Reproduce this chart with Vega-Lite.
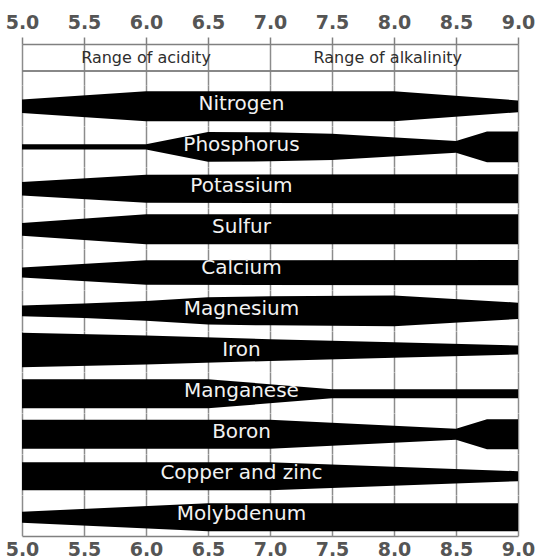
{
  "$schema": "https://vega.github.io/schema/vega-lite/v6.json",
  "autosize": {"type": "pad"},
  "padding": {"left": 5, "top": 13, "right": 5, "bottom": 0},
  "background": "white",
  "config": {
    "view": {"stroke": null},
    "font": "DejaVu Sans"
  },
  "datasets": {
    "header": [
      {"pH": 6.0, "label": "Range of acidity"},
      {"pH": 7.95, "label": "Range of alkalinity"}
    ],
    "bands": [
      {"nutrient": "Nitrogen", "pH": 5.0, "availability": 15},
      {"nutrient": "Nitrogen", "pH": 6.0, "availability": 33},
      {"nutrient": "Nitrogen", "pH": 8.0, "availability": 33},
      {"nutrient": "Nitrogen", "pH": 9.0, "availability": 13},
      {"nutrient": "Phosphorus", "pH": 5.0, "availability": 6},
      {"nutrient": "Phosphorus", "pH": 6.0, "availability": 6},
      {"nutrient": "Phosphorus", "pH": 6.5, "availability": 33},
      {"nutrient": "Phosphorus", "pH": 7.0, "availability": 32},
      {"nutrient": "Phosphorus", "pH": 7.5, "availability": 29},
      {"nutrient": "Phosphorus", "pH": 8.5, "availability": 13},
      {"nutrient": "Phosphorus", "pH": 8.75, "availability": 34},
      {"nutrient": "Phosphorus", "pH": 9.0, "availability": 34},
      {"nutrient": "Potassium", "pH": 5.0, "availability": 15},
      {"nutrient": "Potassium", "pH": 6.0, "availability": 31},
      {"nutrient": "Potassium", "pH": 9.0, "availability": 32},
      {"nutrient": "Sulfur", "pH": 5.0, "availability": 14},
      {"nutrient": "Sulfur", "pH": 6.0, "availability": 33},
      {"nutrient": "Sulfur", "pH": 9.0, "availability": 33},
      {"nutrient": "Calcium", "pH": 5.0, "availability": 11},
      {"nutrient": "Calcium", "pH": 6.0, "availability": 27},
      {"nutrient": "Calcium", "pH": 9.0, "availability": 28},
      {"nutrient": "Magnesium", "pH": 5.0, "availability": 12},
      {"nutrient": "Magnesium", "pH": 5.5, "availability": 16},
      {"nutrient": "Magnesium", "pH": 6.0, "availability": 22},
      {"nutrient": "Magnesium", "pH": 6.5, "availability": 30},
      {"nutrient": "Magnesium", "pH": 7.0, "availability": 32},
      {"nutrient": "Magnesium", "pH": 8.0, "availability": 34},
      {"nutrient": "Magnesium", "pH": 9.0, "availability": 18},
      {"nutrient": "Iron", "pH": 5.0, "availability": 38},
      {"nutrient": "Iron", "pH": 6.0, "availability": 32},
      {"nutrient": "Iron", "pH": 7.0, "availability": 24},
      {"nutrient": "Iron", "pH": 8.0, "availability": 17},
      {"nutrient": "Iron", "pH": 9.0, "availability": 10},
      {"nutrient": "Manganese", "pH": 5.0, "availability": 32},
      {"nutrient": "Manganese", "pH": 6.5, "availability": 32},
      {"nutrient": "Manganese", "pH": 7.5, "availability": 10},
      {"nutrient": "Manganese", "pH": 9.0, "availability": 10},
      {"nutrient": "Boron", "pH": 5.0, "availability": 32},
      {"nutrient": "Boron", "pH": 7.0, "availability": 32},
      {"nutrient": "Boron", "pH": 8.5, "availability": 12},
      {"nutrient": "Boron", "pH": 8.75, "availability": 33},
      {"nutrient": "Boron", "pH": 9.0, "availability": 33},
      {"nutrient": "Copper and zinc", "pH": 5.0, "availability": 31},
      {"nutrient": "Copper and zinc", "pH": 7.0, "availability": 31},
      {"nutrient": "Copper and zinc", "pH": 9.0, "availability": 11},
      {"nutrient": "Molybdenum", "pH": 5.0, "availability": 12},
      {"nutrient": "Molybdenum", "pH": 6.5, "availability": 31},
      {"nutrient": "Molybdenum", "pH": 9.0, "availability": 31}
    ]
  },
  "spacing": 0,
  "vconcat": [
    {
      "data": {"name": "header"},
      "width": 496,
      "height": 41,
      "layer": [
        {
          "mark": {"type": "rule", "color": "#808080", "strokeWidth": 1.5},
          "encoding": {
            "y": {"datum": 0.341, "type": "quantitative", "scale": {"domain": [0, 1]}, "axis": null}
          }
        },
        {
          "mark": {"type": "text", "font": "DejaVu Sans", "fontSize": 16, "color": "#2e2e2e", "baseline": "middle", "align": "center"},
          "encoding": {
            "x": {
              "field": "pH", "type": "quantitative",
              "scale": {"domain": [5, 9], "nice": false, "zero": false},
              "axis": {
                "orient": "top", "title": null, "values": [5, 5.5, 6, 6.5, 7, 7.5, 8, 8.5, 9],
                "format": ".1f", "grid": true, "gridColor": "#8c8c8c", "gridWidth": 1.5, "gridOpacity": 1,
                "domain": true, "domainColor": "#808080", "domainWidth": 1.5,
                "ticks": true, "tickSize": 7, "tickColor": "#808080", "tickWidth": 1.5,
                "labelFont": "DejaVu Sans", "labelFontSize": 19, "labelFontWeight": "bold", "labelColor": "#555555",
                "labelPadding": 5, "labelFlush": false, "labelOverlap": false
              }
            },
            "y": {"datum": 0.67, "type": "quantitative", "scale": {"domain": [0, 1]}, "axis": null},
            "text": {"field": "label"}
          }
        }
      ]
    },
    {
      "data": {"name": "bands"},
      "spacing": {"row": 0},
      "facet": {
        "row": {
          "field": "nutrient", "type": "nominal",
          "sort": ["Nitrogen", "Phosphorus", "Potassium", "Sulfur", "Calcium", "Magnesium", "Iron", "Manganese", "Boron", "Copper and zinc", "Molybdenum"],
          "header": {"title": null, "labels": false}
        }
      },
      "spec": {
        "width": 496,
        "height": 40.8,
        "layer": [
          {
            "mark": {"type": "area", "color": "black", "interpolate": "linear"},
            "encoding": {
              "x": {
                "field": "pH", "type": "quantitative",
                "scale": {"domain": [5, 9], "nice": false, "zero": false},
                "axis": {
                  "orient": "bottom", "title": null, "values": [5, 5.5, 6, 6.5, 7, 7.5, 8, 8.5, 9],
                  "format": ".1f", "grid": true, "gridColor": "#8c8c8c", "gridWidth": 1.5, "gridOpacity": 1,
                  "domain": true, "domainColor": "#808080", "domainWidth": 1.5,
                  "ticks": false,
                  "labelFont": "DejaVu Sans", "labelFontSize": 19, "labelFontWeight": "bold", "labelColor": "#555555",
                  "labelPadding": 4, "labelFlush": false, "labelOverlap": false
                }
              },
              "y": {
                "field": "availability", "type": "quantitative", "stack": "center", "impute": null,
                "scale": {"domain": [-1.4, 39.4]}, "axis": null
              }
            }
          },
          {
            "transform": [{"filter": "datum.pH == 5"}],
            "mark": {"type": "text", "font": "DejaVu Sans", "fontSize": 20, "color": "#f2f2f2", "baseline": "middle", "align": "center"},
            "encoding": {
              "x": {"datum": 6.77, "type": "quantitative"},
              "y": {"datum": 19, "type": "quantitative"},
              "text": {"field": "nutrient"}
            }
          }
        ]
      }
    }
  ]
}
